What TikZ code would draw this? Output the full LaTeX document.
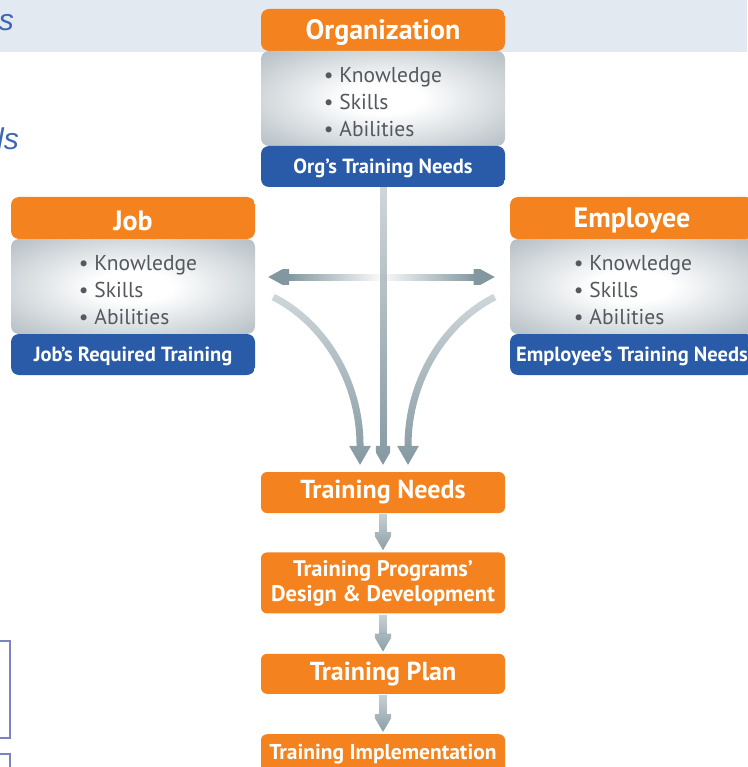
\documentclass[tikz,border=0pt]{standalone}
\usepackage{fontspec}
\setmainfont{PT Sans}
\newfontfamily\titlefont{Liberation Sans}
\usetikzlibrary{positioning,arrows.meta,fadings,shadings}

\definecolor{cardorange}{HTML}{F4831F}
\definecolor{cardblue}{HTML}{2A5BA8}
\definecolor{cardgray}{HTML}{B3BDC3}
\definecolor{flowgray}{HTML}{8397A0}
\definecolor{bandblue}{HTML}{E2E9F1}
\definecolor{titleblue}{HTML}{3B67B1}
\definecolor{listgray}{HTML}{55595D}
\definecolor{framegray}{HTML}{7C84BF}

\pgfdeclareradialshading{cardglow}{\pgfpoint{0bp}{0bp}}{color(0bp)=(white); color(8bp)=(white); color(36bp)=(cardgray); color(50bp)=(cardgray)}
\pgfdeclareverticalshading{fadeupshade}{100bp}{color(0bp)=(white); color(25bp)=(white); color(100bp)=(black!92)}
\pgfdeclarefading{fadeup}{\pgfuseshading{fadeupshade}}
\pgfdeclarehorizontalshading{fademidshade}{100bp}{color(0bp)=(white); color(30bp)=(white); color(50bp)=(black!96); color(70bp)=(white); color(100bp)=(white)}
\pgfdeclarefading{fademid}{\pgfuseshading{fademidshade}}

\tikzset{
  card/.style={rectangle, minimum width=244pt, minimum height=178pt, rounded corners=8pt, inner sep=0pt,
    path picture={
      \fill[cardorange] (path picture bounding box.north west) rectangle ([yshift=-42pt]path picture bounding box.north east);
      \shade[shading=cardglow] ([yshift=-42pt]path picture bounding box.north west) rectangle ([yshift=41pt]path picture bounding box.south east);
      \fill[cardblue] ([yshift=41pt]path picture bounding box.south west) rectangle (path picture bounding box.south east);
    }},
  cardhead/.style={text=white, font=\bfseries\fontsize{28}{32}\selectfont},
  cardlist/.style={text=listgray, align=left, font=\fontsize{21.5}{27}\selectfont},
  cardfoot/.style={text=white, font=\bfseries\fontsize{20.5}{24}\selectfont},
  stage/.style={rectangle, fill=cardorange, rounded corners=6pt, minimum width=244pt, minimum height=40pt,
    text=white, align=center, inner sep=0pt, font=\bfseries\fontsize{26}{29}\selectfont},
  flow/.style={draw, color=flowgray, line width=7pt,
    -{Triangle[width=22pt,length=19pt,line width=0pt,fill=flowgray]}, path fading=fadeup},
  flowboth/.style={draw, color=flowgray, line width=7pt,
    {Triangle[width=23pt,length=21pt,line width=0pt,fill=flowgray]}-{Triangle[width=23pt,length=21pt,line width=0pt,fill=flowgray]},
    path fading=fademid},
  stepflow/.style={draw, color=flowgray, line width=8pt,
    -{Triangle[width=21pt,length=18pt,line width=0pt,fill=flowgray]}, path fading=fadeup,
    shorten <=1pt, shorten >=2pt},
  titletext/.style={text=titleblue, anchor=base east, inner sep=0pt, font=\titlefont\itshape\fontsize{30}{36}\selectfont}
}

\begin{document}
\begin{tikzpicture}[x=1pt,y=-1pt]
        \useasboundingbox (0,0) rectangle (747,767);
        \fill[bandblue] (0,0) rectangle (747,52);
        \node[titletext] (title) at (14,31) {s};
        \node[titletext] (subtitle) at (19,150) {ls};
        \draw[framegray, line width=1.5pt] (-5,641) rectangle (10,738);
        \draw[framegray, line width=1.5pt] (-5,754) rectangle (10,780);

        \begin{scope}[every node/.style={card}]
          \node (org) at (383,98)  {};
          \node (job) at (133,286) {};
          \node (emp) at (632,286) {};
        \end{scope}

        \node[cardhead] (orghead) at ([yshift=-24pt]org.north) {Organization};
        \node[cardhead] (jobhead) at ([yshift=-24pt]job.north) {Job};
        \node[cardhead] (emphead) at ([yshift=-24pt]emp.north) {Employee};

        \node[cardlist] (orglist) at ([yshift=-4pt]org.center) {• Knowledge\\• Skills\\• Abilities};
        \node[cardlist] (joblist) at ([xshift=5pt,yshift=-4pt]job.center) {• Knowledge\\• Skills\\• Abilities};
        \node[cardlist] (emplist) at ([xshift=1pt,yshift=-4pt]emp.center) {• Knowledge\\• Skills\\• Abilities};

        \node[cardfoot] (orgfoot) at ([yshift=19pt]org.south) {Org’s Training Needs};
        \node[cardfoot] (jobfoot) at ([yshift=19pt]job.south) {Job’s Required Training};
        \node[cardfoot] (empfoot) at ([yshift=19pt]emp.south) {Employee’s Training Needs};

        \node[stage, minimum height=41pt] (needs) at (383,492.5) {Training Needs};
        \node[stage, minimum height=61pt, font=\bfseries\fontsize{22.5}{25}\selectfont] (design) [below=39pt of needs] {Training Programs’\\Design \& Development};
        \node[stage] (plan) [below=40pt of design] {Training Plan};
        \node[stage, font=\bfseries\fontsize{21.5}{24}\selectfont] (impl) [below=40pt of plan] {Training Implementation};

        \path ([xshift=13pt,yshift=9pt]job.east) edge[flowboth] ([xshift=-15pt,yshift=9pt]emp.west);
        \path (org) edge[flow, shorten >=7pt] (needs);
        \draw[flow] ([xshift=18pt,yshift=-11pt]job.east) .. controls (323,322) and (360,380) .. ([xshift=-23pt,yshift=7pt]needs.north);
        \draw[flow] ([xshift=-15pt,yshift=-11pt]emp.west) .. controls (445,322) and (408,380) .. ([xshift=25pt,yshift=7pt]needs.north);

        \begin{scope}[every edge/.style={stepflow}]
          \path (needs)  edge (design);
          \path (design) edge (plan);
          \path (plan)   edge (impl);
        \end{scope}

      \end{tikzpicture}
\end{document}
